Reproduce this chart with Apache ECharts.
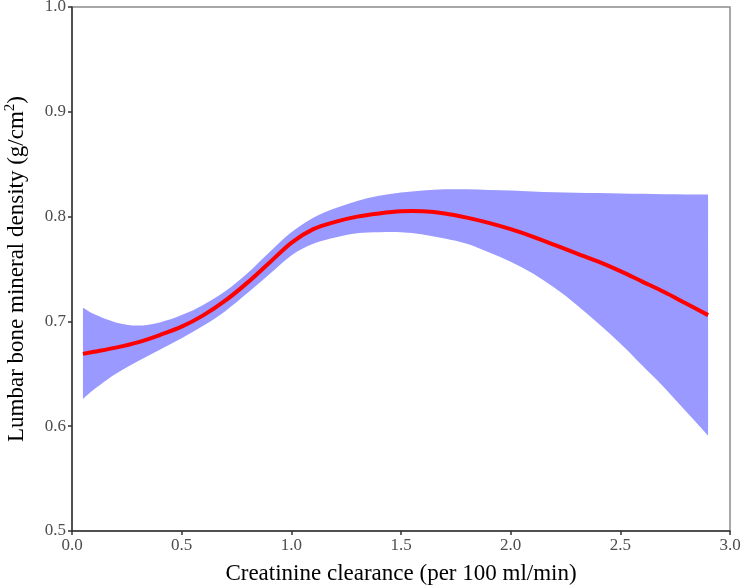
<!DOCTYPE html>
<html>
<head>
<meta charset="utf-8">
<script src="https://cdn.jsdelivr.net/npm/echarts@6/dist/echarts.min.js"></script>
<style>
  html, body { margin: 0; padding: 0; background: #fff; }
  #main { width: 742px; height: 588px; }
</style>
</head>
<body>
<div id="main"></div>
<script>
// creatinine clearance (per 100 ml/min)
var xs = [0.05, 0.1, 0.2, 0.3, 0.4, 0.5, 0.6, 0.7, 0.8, 0.9, 1.0, 1.1, 1.2, 1.3, 1.4, 1.5,
  1.6, 1.7, 1.8, 1.9, 2.0, 2.1, 2.2, 2.3, 2.4, 2.5, 2.6, 2.7, 2.8, 2.9];
// fitted lumbar BMD
var fit = [0.669, 0.671, 0.675, 0.680, 0.687, 0.695, 0.706, 0.720, 0.737, 0.756, 0.775, 0.788,
  0.795, 0.800, 0.803, 0.805, 0.805, 0.803, 0.799, 0.794, 0.788, 0.781, 0.773, 0.765, 0.757,
  0.748, 0.738, 0.728, 0.717, 0.706];
// 95% CI
var upper = [0.713, 0.707, 0.699, 0.696, 0.699, 0.706, 0.716, 0.729, 0.746, 0.766, 0.785, 0.799,
  0.808, 0.815, 0.820, 0.823, 0.825, 0.826, 0.826, 0.8255, 0.8248, 0.824, 0.8233, 0.8228, 0.8224,
  0.822, 0.8217, 0.8214, 0.8212, 0.821];
var lower = [0.626, 0.635, 0.650, 0.662, 0.673, 0.684, 0.696, 0.710, 0.727, 0.745, 0.763, 0.774,
  0.780, 0.784, 0.785, 0.785, 0.783, 0.779, 0.774, 0.766, 0.757, 0.746, 0.732, 0.716, 0.698,
  0.679, 0.658, 0.637, 0.614, 0.591];

var xTicks = [0, 3, 0.5];
var yTicks = [0.5, 1.0, 0.1];

var chart = echarts.init(document.getElementById('main'));

var font = '"Liberation Serif", "DejaVu Serif", serif';

// catmull-rom curve through screen points, as svg path commands
function curve(pts) {
  var d = '';
  for (var i = 0; i < pts.length - 1; i++) {
    var p0 = pts[Math.max(i - 1, 0)], p1 = pts[i], p2 = pts[i + 1];
    var p3 = pts[Math.min(i + 2, pts.length - 1)];
    var c1 = [p1[0] + (p2[0] - p0[0]) / 6, p1[1] + (p2[1] - p0[1]) / 6];
    var c2 = [p2[0] - (p3[0] - p1[0]) / 6, p2[1] - (p3[1] - p1[1]) / 6];
    d += ' C' + c1[0] + ',' + c1[1] + ' ' + c2[0] + ',' + c2[1] + ' ' + p2[0] + ',' + p2[1];
  }
  return d;
}

function toPts(api, ys) {
  return xs.map(function (x, i) { return api.coord([x, ys[i]]); });
}

function renderBand(params, api) {
  if (params.dataIndex !== 0) return;
  var up = toPts(api, upper);
  var lo = toPts(api, lower).reverse();
  var d = 'M' + up[0][0] + ',' + up[0][1] + curve(up) +
    ' L' + lo[0][0] + ',' + lo[0][1] + curve(lo) + ' Z';
  return {
    type: 'path',
    shape: { pathData: d },
    style: { fill: '#9999ff', stroke: null }
  };
}

function renderFit(params, api) {
  if (params.dataIndex !== 0) return;
  var p = toPts(api, fit);
  return {
    type: 'path',
    shape: { pathData: 'M' + p[0][0] + ',' + p[0][1] + curve(p) },
    style: { fill: null, stroke: '#ff0000', lineWidth: 4, lineJoin: 'round' }
  };
}

var option = {
  animation: false,
  grid: {
    left: 72,
    right: 12,
    top: 7,
    bottom: 57,
    containLabel: false,
    outerBoundsMode: 'none',
    show: true,
    borderColor: '#8c8c8c',
    borderWidth: 1.5
  },
  xAxis: {
    type: 'value',
    z: 10,
    min: xTicks[0],
    max: xTicks[1],
    interval: xTicks[2],
    name: 'Creatinine clearance (per 100 ml/min)',
    nameLocation: 'middle',
    nameGap: 31,
    nameTextStyle: { fontFamily: font, fontSize: 23, color: '#000' },
    axisLine: { lineStyle: { color: '#333', width: 1.5 } },
    axisTick: { length: 4, lineStyle: { color: '#333', width: 1.5 } },
    axisLabel: {
      fontFamily: font, fontSize: 17, color: '#4d4d4d', margin: 6,
      formatter: function (v) { return v.toFixed(1); }
    },
    splitLine: { show: false }
  },
  yAxis: {
    type: 'value',
    z: 10,
    min: yTicks[0],
    max: yTicks[1],
    interval: yTicks[2],
    name: 'Lumbar bone mineral density (g/cm{sup|2})',
    nameLocation: 'middle',
    nameGap: 42,
    nameTextStyle: {
      fontFamily: font, fontSize: 23, color: '#000',
      rich: {
        sup: { fontFamily: font, fontSize: 15, color: '#000', padding: [0, 0, 12, 0] }
      }
    },
    axisLine: { show: true, lineStyle: { color: '#333', width: 1.5 } },
    axisTick: { show: true, length: 4, lineStyle: { color: '#333', width: 1.5 } },
    axisLabel: {
      fontFamily: font, fontSize: 17, color: '#4d4d4d', margin: 6,
      formatter: function (v) { return v.toFixed(1); }
    },
    splitLine: { show: false }
  },
  series: [
    {
      name: 'ci',
      type: 'custom',
      renderItem: renderBand,
      data: [[xs[0], upper[0]]],
      silent: true,
      z: 2
    },
    {
      name: 'fit',
      type: 'custom',
      renderItem: renderFit,
      data: [[xs[0], fit[0]]],
      silent: true,
      z: 5
    }
  ]
};

chart.setOption(option);
</script>
</body>
</html>
